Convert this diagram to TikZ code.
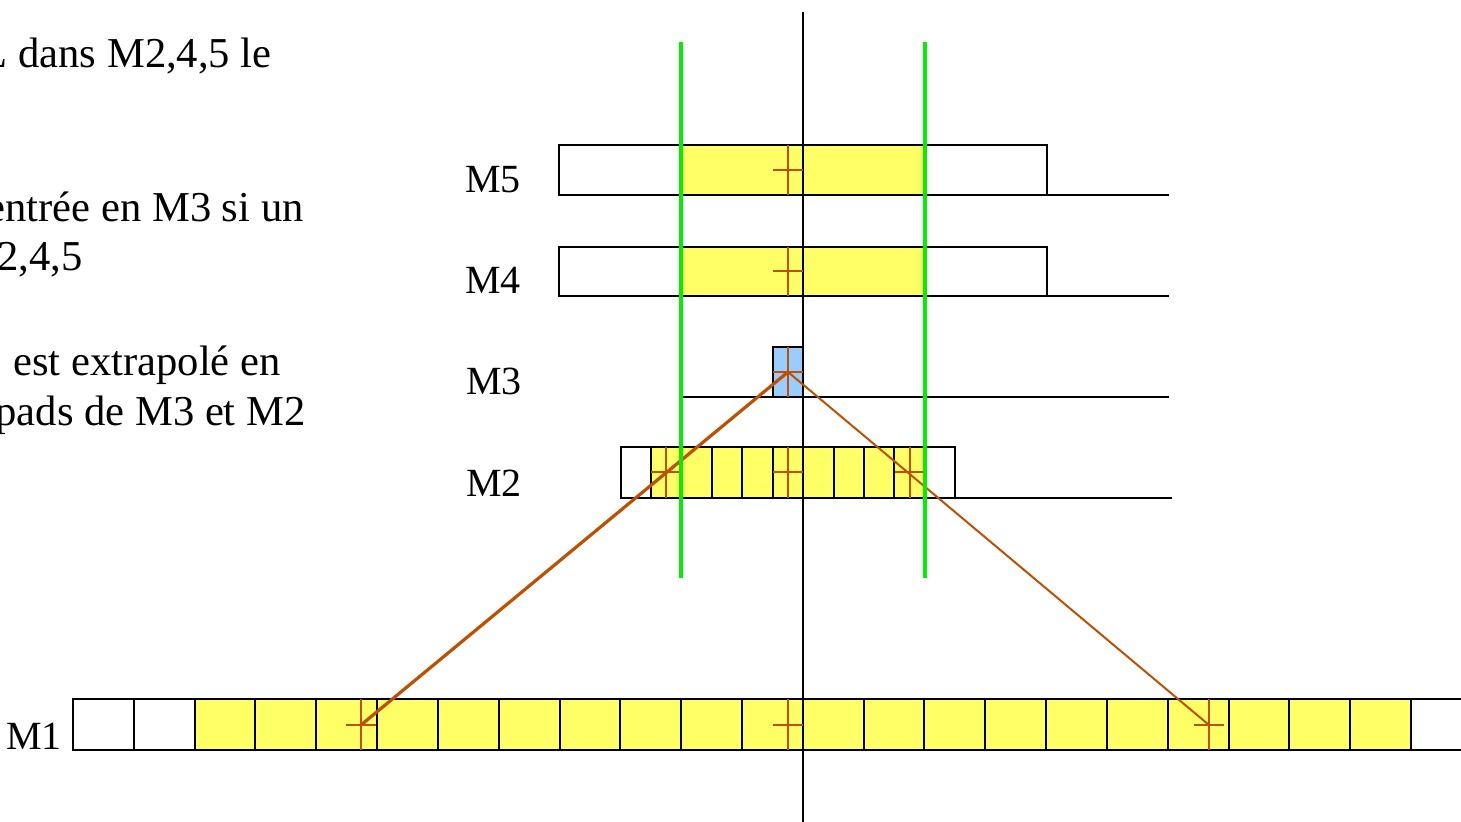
\documentclass[tikz,border=0pt]{standalone}
\usepackage{fontspec}
\setmainfont{Liberation Serif}
\usepackage{tikz}
\usetikzlibrary{positioning}
\usepackage{xcolor}
\definecolor{padyellow}{RGB}{255,255,102}
\definecolor{padblue}{RGB}{153,204,255}
\definecolor{roadgreen}{RGB}{0,240,0}
\definecolor{trackorange}{RGB}{192,80,0}
\tikzstyle{pad} = [draw=black, line width=1pt]
\tikzstyle{axis} = [black, line width=1pt]
\tikzstyle{road} = [roadgreen, line width=1.75pt]
\tikzstyle{track} = [trackorange, line width=1.6pt]
\tikzstyle{cross} = [trackorange, line width=1.1pt]
\tikzstyle{layer} = [anchor=base east, inner sep=0pt, font=\fontsize{20}{24}\selectfont]
\tikzstyle{note} = [anchor=base east, inner sep=0pt, font=\fontsize{21.3}{25.6}\selectfont]

\begin{document}
\begin{tikzpicture}[x=0.5pt, y=-0.5pt]
\useasboundingbox (0,0) rectangle (1461,822);

% Explanation text on the left
\node[note] (txta) at (272,68) {L dans M2,4,5 le};
\node[note] (txtb) at (304,222) {entrée en M3 si un};
\node[note] (txtc) at (83,271) {2,4,5};
\node[note] (txtd) at (281,376) {est extrapolé en};
\node[note] (txte) at (306,426) {pads de M3 et M2};

% M5 and M4 with their search windows
\foreach \lay/\top/\bot in {5/145/195, 4/247/296} {
    \fill[padyellow] (681,\top) rectangle (925,\bot);
    \draw[pad] (559,\top) rectangle (1047,\bot);
    \draw[pad] (1047,\bot) -- (1169,\bot);
    \node[layer] (lab\lay) at (521,\bot-2) {M\lay};
}

% M3: one pad
\filldraw[pad, fill=padblue] (773,347) rectangle (803,397);
\draw[pad] (681,397) -- (1169,397);
\node[layer] (lab3) at (522,395) {M3};

% M2: 11 small pads
\foreach \i in {0,...,10} {
    \def\col{white}
    \ifnum\i>0 \ifnum\i<10 \def\col{padyellow}\fi\fi
    \filldraw[pad, fill=\col] (621+30.36*\i,447) rectangle (621+30.36*\i+30.36,498);
}
\draw[pad] (955,498) -- (1172,498);
\node[layer] (lab2) at (522,497) {M2};

% M1: big pads, running off the right side
\foreach \i in {0,...,22} {
    \def\col{white}
    \ifnum\i>1 \ifnum\i<22 \def\col{padyellow}\fi\fi
    \filldraw[pad, fill=\col] (73+60.82*\i,699) rectangle (73+60.82*\i+60.82,750);
}
\node[layer] (lab1) at (62,749) {M1};

% Vertical axis
\coordinate (axtop) at (803,12);
\coordinate (axbot) at (803,822);
\draw[axis] (axtop) -- (axbot);

% Hit crosses
\foreach \cx/\cy/\ct/\cb in {788/170/145/195, 788/271/247/296, 788/372/347/397,
    666/472/447/498, 788/472/447/498, 910/472/447/498,
    361/725/699/750, 788/725/699/750, 1209/725/699/750} {
    \draw[cross] (\cx,\ct) -- (\cx,\cb) (\cx-15,\cy) -- (\cx+15,\cy);
}

% Extrapolated tracks
\coordinate (hit3) at (788,372);
\coordinate (hit1l) at (361,725);
\coordinate (hit1r) at (1209,725);
\draw[track] (hit3) -- (hit1l);
\draw[track, line width=1pt] (hit3) -- (hit1r);

% Road limits
\foreach \gx in {681,925} {
    \coordinate (rtop\gx) at (\gx,42);
    \coordinate (rbot\gx) at (\gx,578);
    \draw[road] (rtop\gx) -- (rbot\gx);
}
\end{tikzpicture}
\end{document}
